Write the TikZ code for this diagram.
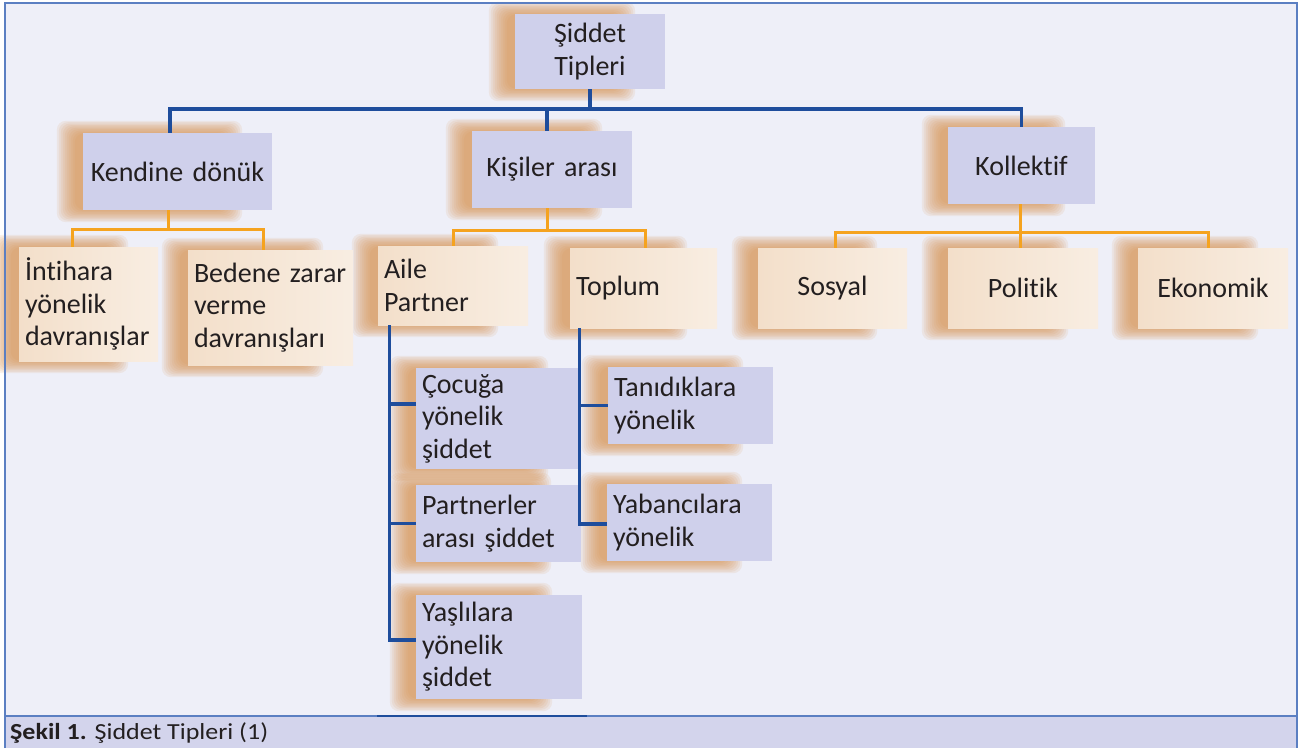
\documentclass[tikz,border=0pt]{standalone}
\usepackage{fontspec}
\setmainfont{Carlito}[Ligatures=NoCommon]
\newfontfamily\capfont{Carlito}[FakeStretch=1.13,Ligatures=NoCommon]
\definecolor{bgc}{HTML}{EEEFF8}
\definecolor{boxb}{HTML}{CFD0EB}
\definecolor{boxp}{HTML}{F3DFCA}
\definecolor{glowc}{HTML}{D8914A}
\definecolor{lineb}{HTML}{1E4D9C}
\definecolor{lineo}{HTML}{F5A31F}
\definecolor{framec}{HTML}{5B7FC2}
\definecolor{capbar}{HTML}{D3D4EC}
\definecolor{txt}{HTML}{231F20}
\pgfdeclarelayer{bg0}
\pgfdeclarelayer{glow}
\pgfsetlayers{bg0,glow,main}
\begin{document}
\begin{tikzpicture}[x=1pt,y=-1pt,
  every node/.style={text=txt},
  boxbase/.style={rectangle, inner xsep=6pt, inner ysep=0pt, font={\fontsize{28}{32.5}\selectfont\spaceskip=5pt plus 1pt\relax}},
  bbox/.style={boxbase, fill=boxb},
  pbox/.style={boxbase, left color=boxp, middle color=boxp, right color=boxp!55!white},
  bl/.style={draw=lineb, line width=3.2pt},
  ol/.style={draw=lineo, line width=3pt},
]
\useasboundingbox (0,0) rectangle (1308,748);
\begin{pgfonlayer}{bg0}
  \fill[white] (0,0) rectangle (1308,748);
  \fill[bgc] (5,3) rectangle (1297,748);
  \fill[capbar] (5,716) rectangle (1297,748);
\end{pgfonlayer}

% boxes
\node[bbox, minimum width=150, minimum height=75, text width=138, align=center] (top) at (590,51.5) {Şiddet\\Tipleri};
\node[bbox, minimum width=189, minimum height=77, text width=177, align=center] (kendine) at (177.5,171.5) {Kendine dönük};
\node[bbox, minimum width=160, minimum height=77, text width=148, align=center] (kisiler) at (552,169.5) {Kişiler arası};
\node[bbox, minimum width=147, minimum height=77, text width=135, align=center] (kollektif) at (1021.5,165.5) {Kollektif};

\node[pbox, minimum width=139, minimum height=114, text width=127, align=left] (intihara) at (88.5,304) {İntihara\\yönelik\\davranışlar};
\node[pbox, minimum width=165, minimum height=115, text width=153, align=left] (bedene) at (270.5,307.5) {Bedene zarar\\verme\\davranışları};
\node[pbox, minimum width=150, minimum height=79, text width=138, align=left] (aile) at (453,285.5) {Aile\\Partner};
\node[pbox, minimum width=147, minimum height=80, text width=135, align=left] (toplum) at (643.5,288) {Toplum};
\node[pbox, minimum width=149, minimum height=80, text width=137, align=center] (sosyal) at (832.5,288) {Sosyal};
\node[pbox, minimum width=150, minimum height=80, text width=138, align=center] (politik) at (1023,288) {Politik};
\node[pbox, minimum width=150, minimum height=80, text width=138, align=center] (ekonomik) at (1213,288) {Ekonomik};

\node[bbox, minimum width=162, minimum height=101, text width=150, align=left] (cocuga) at (497,418.5) {Çocuğa\\yönelik\\şiddet};
\node[bbox, minimum width=165, minimum height=77, text width=153, align=left] (partner) at (498.5,523.5) {Partnerler\\arası şiddet};
\node[bbox, minimum width=166, minimum height=104, text width=154, align=left] (yasli) at (499,647) {Yaşlılara\\yönelik\\şiddet};
\node[bbox, minimum width=165, minimum height=77, text width=153, align=left] (tanidik) at (690.5,405.5) {Tanıdıklara\\yönelik};
\node[bbox, minimum width=165, minimum height=77, text width=153, align=left] (yabanci) at (689.5,522.5) {Yabancılara\\yönelik};

% glow shadows
\begin{pgfonlayer}{glow}
\foreach \n in {top,kendine,kisiler,kollektif,intihara,bedene,aile,toplum,sosyal,politik,ekonomik,cocuga,partner,yasli,tanidik,yabanci}{
  \foreach \k in {0,...,9}{
    \fill[glowc, opacity=0.11, rounded corners=9pt]
      ([shift={(-26+2*\k,-12+1.4*\k)}]\n.north west) rectangle ([shift={(-30-2*\k,12-1.4*\k)}]\n.south east);
  }
}
\end{pgfonlayer}

% blue top connectors
\coordinate (hb) at (0,109);
\coordinate (kd) at ([xshift=-7.5]kendine.north);
\coordinate (ks) at ([xshift=-5]kisiler.north);
\draw[bl] (top.south) -- (top.south |- hb);
\draw[bl] (kd) -- (kd |- hb) -- (kollektif.north |- hb) -- (kollektif.north);
\draw[bl] (ks) -- (ks |- hb);

% orange connectors
\coordinate (o1) at (0,229);
\coordinate (o2) at (0,230);
\coordinate (o3) at (0,232);
\coordinate (kdo) at ([xshift=-9.5]kendine.south);
\coordinate (iu) at ([xshift=-16.5]intihara.north);
\coordinate (bu) at ([xshift=-7.5]bedene.north);
\draw[ol] (kdo) -- (kdo |- o1);
\draw[ol] (iu) |- (bu |- o1) -- (bu);
\coordinate (kso) at ([xshift=-5]kisiler.south);
\coordinate (tu) at ([xshift=1.5]toplum.north);
\draw[ol] (kso) -- (kso |- o2);
\draw[ol] (aile.north) |- (tu |- o2) -- (tu);
\coordinate (klo) at ([xshift=-1.5]kollektif.south);
\coordinate (su) at ([xshift=2.5]sosyal.north);
\coordinate (pu) at ([xshift=-3]politik.north);
\coordinate (eu) at ([xshift=-5]ekonomik.north);
\draw[ol] (klo) -- (klo |- o3);
\draw[ol] (su) |- (eu |- o3) -- (eu);
\draw[ol] (pu) -- (pu |- o3);

% blue sub-trees
\coordinate (av) at ([xshift=12]aile.south west);
\draw[bl] (av) |- ([yshift=14.5]cocuga.west);
\draw[bl] (av) |- (partner.west);
\draw[bl] (av) |- ([yshift=7]yasli.west);
\coordinate (tv) at ([xshift=10]toplum.south west);
\draw[bl] (tv) |- (tanidik.west);
\draw[bl] (tv) |- ([yshift=-1.5]yabanci.west);

% frame and caption
\draw[framec, line width=1.4pt] (5,748) -- (5,3) -- (1297,3) -- (1297,748);
\draw[framec, line width=1.2pt] (5,716) -- (1297,716);
\draw[lineb, line width=2.4pt] (377,716) -- (587,716);
\node[anchor=base west, inner sep=0pt, font=\capfont\fontsize{23}{26}\selectfont] (cap) at (10,739) {\textbf{Şekil 1.} Şiddet Tipleri (1)};
\end{tikzpicture}
\end{document}
